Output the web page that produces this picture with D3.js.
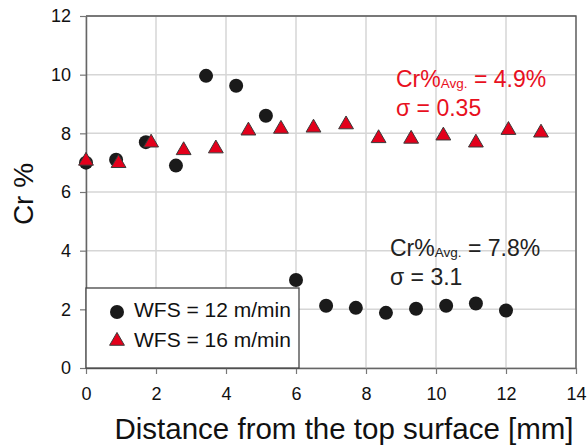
<!DOCTYPE html>
<html>
<head>
<meta charset="utf-8">
<script src="https://cdn.jsdelivr.net/npm/d3@7"></script>
<style>
  body { margin: 0; background: #fff; }
  svg { font-family: "Liberation Sans", Arial, sans-serif; }
</style>
</head>
<body>
<div id="chart"></div>
<script>
/* DATA */

const xTicks = [0, 2, 4, 6, 8, 10, 12, 14];
const yTicks = [0, 2, 4, 6, 8, 10, 12];

// WFS = 12 m/min (circles)
const dist12 = [0, 0.86, 1.71, 2.57, 3.43, 4.29, 5.14, 6.0, 6.86, 7.71, 8.57, 9.43, 10.29, 11.14, 12.0];
const cr12 = [7.0, 7.1, 7.7, 6.9, 9.96, 9.62, 8.6, 3.0, 2.12, 2.05, 1.88, 2.02, 2.12, 2.2, 1.96];

// WFS = 16 m/min (triangles)
const dist16 = [0, 0.93, 1.86, 2.79, 3.71, 4.64, 5.57, 6.5, 7.43, 8.36, 9.29, 10.21, 11.14, 12.07, 13.0];
const cr16 = [7.06, 6.98, 7.68, 7.42, 7.48, 8.09, 8.15, 8.19, 8.3, 7.83, 7.81, 7.92, 7.68, 8.11, 8.02];

const legendLabels = ["WFS = 12 m/min", "WFS = 16 m/min"];

/* SET UP */

const w = 587;
const h = 448;
const m = { top: 16, right: 11, bottom: 80, left: 86 };

const svg = d3
  .select("#chart")
  .append("svg")
  .attr("width", w)
  .attr("height", h);

const x = d3.scaleLinear().domain([0, 14]).range([m.left, w - m.right]);
const y = d3.scaleLinear().domain([0, 12]).range([h - m.bottom, m.top]);

// grid
svg.append("g")
  .selectAll("line")
  .data(xTicks)
  .join("line")
  .attr("x1", d => x(d)).attr("x2", d => x(d))
  .attr("y1", y(0)).attr("y2", y(12))
  .attr("stroke", "#d6d6d6")
  .attr("stroke-width", 1.5);

svg.append("g")
  .selectAll("line")
  .data(yTicks)
  .join("line")
  .attr("x1", x(0)).attr("x2", x(14))
  .attr("y1", d => y(d)).attr("y2", d => y(d))
  .attr("stroke", "#d6d6d6")
  .attr("stroke-width", 1.5);

// frame (top + right)
svg.append("path")
  .attr("d", `M${x(0)},${y(12)}H${x(14)}V${y(0)}`)
  .attr("fill", "none")
  .attr("stroke", "#555")
  .attr("stroke-width", 1.3);

// axes
const xAxis = svg.append("g")
  .attr("transform", `translate(0,${y(0)})`)
  .call(d3.axisBottom(x).tickValues(xTicks).tickSize(6).tickPadding(13).tickSizeOuter(0));

const yAxis = svg.append("g")
  .attr("transform", `translate(${x(0)},0)`)
  .call(d3.axisLeft(y).tickValues(yTicks).tickSize(6).tickPadding(9).tickSizeOuter(0));

[xAxis, yAxis].forEach(g => {
  g.select(".domain").attr("stroke", "#666").attr("stroke-width", 1.5);
  g.selectAll(".tick line").attr("stroke", "#777").attr("stroke-width", 1.2);
  g.selectAll(".tick text")
    .attr("font-size", 18)
    .attr("font-family", "Liberation Sans, Arial, sans-serif")
    .attr("fill", "#111");
});

// axis titles
svg.append("text")
  .text("Distance from the top surface [mm]")
  .attr("x", 344)
  .attr("y", 439)
  .attr("text-anchor", "middle")
  .attr("font-size", 29.5)
  .attr("fill", "#111");

svg.append("text")
  .text("Cr %")
  .attr("transform", "translate(33,194) rotate(-90)")
  .attr("text-anchor", "middle")
  .attr("font-size", 28)
  .attr("fill", "#111");

/* POINTS */

const triangle = d3.symbol().type(d3.symbolTriangle).size(95);

svg.append("g")
  .selectAll("circle")
  .data(dist12.map((d, i) => [d, cr12[i]]))
  .join("circle")
  .attr("cx", d => x(d[0]))
  .attr("cy", d => y(d[1]))
  .attr("r", 7)
  .attr("fill", "#1a1a1a");

svg.append("g")
  .selectAll("path")
  .data(dist16.map((d, i) => [d, cr16[i]]))
  .join("path")
  .attr("d", triangle)
  .attr("transform", d => `translate(${x(d[0])},${y(d[1])})`)
  .attr("fill", "#e3001b")
  .attr("stroke", "#3a3a3a")
  .attr("stroke-width", 1);

/* ANNOTATIONS */

function stats(xPos, yPos, avg, sigma, color) {
  const t = svg.append("text")
    .attr("x", xPos)
    .attr("y", yPos)
    .attr("font-size", 23)
    .attr("fill", color);
  t.append("tspan").text("Cr%");
  t.append("tspan").text("Avg.").attr("font-size", 13.5).attr("dy", 1);
  t.append("tspan").text(" = " + avg).attr("dy", -1);

  svg.append("text")
    .attr("x", xPos)
    .attr("y", yPos + 29)
    .attr("font-size", 23)
    .attr("fill", color)
    .text("σ = " + sigma);
}

stats(396, 87, "4.9%", "0.35", "#e8101e");
stats(390, 256, "7.8%", "3.1", "#222");

/* LEGEND */

const legend = svg.append("g");
legend.append("rect")
  .attr("x", x(0))
  .attr("y", 288)
  .attr("width", 213)
  .attr("height", y(0) - 288)
  .attr("fill", "#fff")
  .attr("stroke", "#444")
  .attr("stroke-width", 1.3);

legend.append("circle")
  .attr("cx", 117)
  .attr("cy", 312)
  .attr("r", 7)
  .attr("fill", "#1a1a1a");

legend.append("path")
  .attr("d", triangle)
  .attr("transform", "translate(117,341)")
  .attr("fill", "#e3001b")
  .attr("stroke", "#3a3a3a")
  .attr("stroke-width", 1);

legend.selectAll("text")
  .data(legendLabels)
  .join("text")
  .text(d => d)
  .attr("x", 134)
  .attr("y", (d, i) => 317 + i * 30)
  .attr("font-size", 21)
  .attr("fill", "#111");
</script>
</body>
</html>
